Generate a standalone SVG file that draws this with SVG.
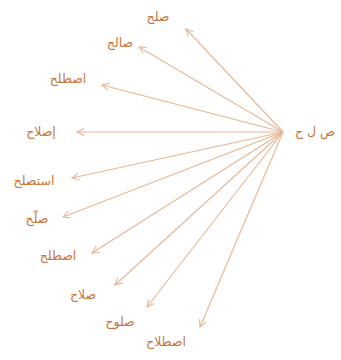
<svg xmlns="http://www.w3.org/2000/svg" width="341" height="360" viewBox="0 0 341 360">
<style>
.lbl{font-family:"DejaVu Sans","Noto Sans",sans-serif;font-size:12.5px;fill:#c8763a;text-anchor:middle}
.arr{stroke:#e8b692;stroke-width:1.1;fill:none;marker-end:url(#ah)}
</style>
<defs>
<marker id="ah" markerWidth="12" markerHeight="12" refX="0" refY="0" viewBox="-10 -6 12 12" orient="auto" markerUnits="userSpaceOnUse">
<path d="M-7,-3.5 L0,0 L-7,3.5" fill="none" stroke="#e8b692" stroke-width="1.1"/>
</marker>
</defs>
<rect width="341" height="360" fill="#ffffff"/>
<g id="connectors">
<line class="arr" x1="283" y1="132" x2="186" y2="29"/>
<line class="arr" x1="283" y1="132" x2="139" y2="47"/>
<line class="arr" x1="283" y1="132" x2="102" y2="85"/>
<line class="arr" x1="283" y1="132" x2="77" y2="132"/>
<line class="arr" x1="283" y1="132" x2="72" y2="178"/>
<line class="arr" x1="283" y1="132" x2="63" y2="217"/>
<line class="arr" x1="283" y1="132" x2="92" y2="253"/>
<line class="arr" x1="283" y1="132" x2="115" y2="285"/>
<line class="arr" x1="283" y1="132" x2="147" y2="307"/>
<line class="arr" x1="283" y1="132" x2="200" y2="327"/>
</g>
<g id="root"><text class="lbl" x="315" y="136">ص ل ح</text></g>
<g id="n1"><text class="lbl" x="158" y="21">صلح</text></g>
<g id="n2"><text class="lbl" x="120" y="47">صالح</text></g>
<g id="n3"><text class="lbl" x="68" y="83">اصطلح</text></g>
<g id="n4"><text class="lbl" x="41" y="136">إصلاح</text></g>
<g id="n5"><text class="lbl" x="34" y="185">استصلح</text></g>
<g id="n6"><text class="lbl" x="37" y="223">صلّح</text></g>
<g id="n7"><text class="lbl" x="58" y="260">اصطلح</text></g>
<g id="n8"><text class="lbl" x="83" y="299">صلاح</text></g>
<g id="n9"><text class="lbl" x="120" y="326">صلوح</text></g>
<g id="n10"><text class="lbl" x="166" y="346">اصطلاح</text></g>
</svg>
